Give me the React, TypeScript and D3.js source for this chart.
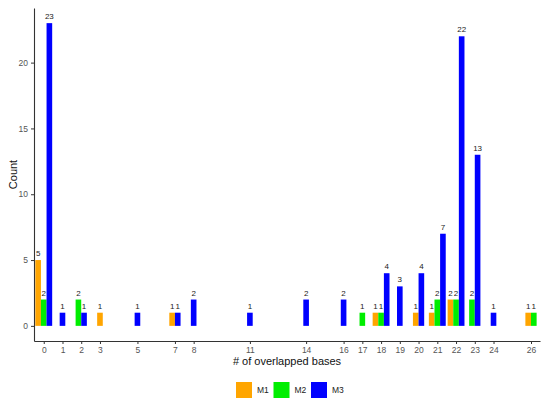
import * as d3 from "d3";
import { useEffect, useRef } from "react";

// counts per number of overlapped bases
const m1 = [
  { x: 0, n: 5 }, { x: 3, n: 1 }, { x: 7, n: 1 }, { x: 18, n: 1 },
  { x: 20, n: 1 }, { x: 21, n: 1 }, { x: 22, n: 2 }, { x: 26, n: 1 },
];
const m2 = [
  { x: 0, n: 2 }, { x: 2, n: 2 }, { x: 17, n: 1 }, { x: 18, n: 1 },
  { x: 21, n: 2 }, { x: 22, n: 2 }, { x: 23, n: 2 }, { x: 26, n: 1 },
];
const m3 = [
  { x: 0, n: 23 }, { x: 1, n: 1 }, { x: 2, n: 1 }, { x: 5, n: 1 },
  { x: 7, n: 1 }, { x: 8, n: 2 }, { x: 11, n: 1 }, { x: 14, n: 2 },
  { x: 16, n: 2 }, { x: 18, n: 4 }, { x: 19, n: 3 }, { x: 20, n: 4 },
  { x: 21, n: 7 }, { x: 22, n: 22 }, { x: 23, n: 13 }, { x: 24, n: 1 },
];
const seriesNames = ["M1", "M2", "M3"];
const seriesColors = ["#FFA500", "#00EE00", "#0000FF"];
const xTicks = [0, 1, 2, 3, 5, 7, 8, 11, 14, 16, 17, 18, 19, 20, 21, 22, 23, 24, 26];
const yTicks = [0, 5, 10, 15, 20];

const FONT = "'Liberation Sans', Arial, sans-serif";

export default function App() {
  const ref = useRef<SVGSVGElement>(null);

  useEffect(() => {
    const svg = d3.select(ref.current);
    svg.selectAll("*").remove();

    const x = d3.scaleLinear().domain([-0.52, 26.48]).range([34, 540]);
    const y = d3.scaleLinear().domain([-1.15, 24.15]).range([341, 8]);

    const all = [m1, m2, m3];
    // dodge bars among the groups present at each x
    const bars: { x: number; n: number; g: number; i: number; k: number }[] = [];
    xTicks.forEach((xv) => {
      const present = all
        .map((s, g) => ({ g, d: s.find((d) => d.x === xv) }))
        .filter((p) => p.d);
      present.forEach((p, i) =>
        bars.push({ x: xv, n: p.d!.n, g: p.g, i, k: present.length })
      );
    });
    const bw = 0.3;
    const left = (d: { x: number; i: number; k: number }) =>
      d.x - (d.k * bw) / 2 + d.i * bw;

    // bars
    svg
      .append("g")
      .selectAll("rect")
      .data(bars)
      .enter()
      .append("rect")
      .attr("x", (d) => x(left(d)))
      .attr("width", (d) => x(left(d) + bw) - x(left(d)))
      .attr("y", (d) => y(d.n))
      .attr("height", (d) => y(0) - y(d.n))
      .attr("fill", (d) => seriesColors[d.g]);

    // value labels
    svg
      .append("g")
      .selectAll("text")
      .data(bars)
      .enter()
      .append("text")
      .attr("x", (d) => x(left(d) + bw / 2))
      .attr("y", (d) => y(d.n) - 4)
      .attr("text-anchor", "middle")
      .attr("font-family", FONT)
      .attr("font-size", "8px")
      .attr("fill", "#222")
      .text((d) => d.n);

    // x axis
    const xAxis = svg
      .append("g")
      .attr("transform", `translate(0,${y.range()[0]})`)
      .call(d3.axisBottom(x).tickValues(xTicks).tickSize(3).tickPadding(3).tickSizeOuter(0));
    xAxis.select(".domain").attr("stroke", "#333").attr("stroke-width", 1.1);
    xAxis.selectAll(".tick line").attr("stroke", "#333");
    xAxis
      .selectAll("text")
      .attr("font-family", FONT)
      .attr("font-size", "8.5px")
      .attr("fill", "#555");

    // y axis
    const yAxis = svg
      .append("g")
      .attr("transform", `translate(${x.range()[0]},0)`)
      .call(d3.axisLeft(y).tickValues(yTicks).tickSize(3).tickPadding(3).tickSizeOuter(0));
    yAxis.select(".domain").attr("stroke", "#333").attr("stroke-width", 1.1);
    yAxis.selectAll(".tick line").attr("stroke", "#333");
    yAxis
      .selectAll("text")
      .attr("font-family", FONT)
      .attr("font-size", "8.5px")
      .attr("fill", "#555");

    // axis titles
    svg
      .append("text")
      .attr("x", (x.range()[0] + x.range()[1]) / 2)
      .attr("y", 365)
      .attr("text-anchor", "middle")
      .attr("font-family", FONT)
      .attr("font-size", "11px")
      .attr("fill", "#111")
      .text("# of overlapped bases");

    svg
      .append("text")
      .attr("transform", `translate(17,${(y.range()[0] + y.range()[1]) / 2}) rotate(-90)`)
      .attr("text-anchor", "middle")
      .attr("font-family", FONT)
      .attr("font-size", "11px")
      .attr("fill", "#111")
      .text("Count");

    // legend
    const legend = svg
      .append("g")
      .selectAll("g")
      .data(seriesNames)
      .enter()
      .append("g")
      .attr("transform", (_, i) => `translate(${236 + i * 37.5},382)`);
    legend
      .append("rect")
      .attr("width", 16)
      .attr("height", 16)
      .attr("fill", (_, i) => seriesColors[i]);
    legend
      .append("text")
      .attr("x", 21)
      .attr("y", 11)
      .attr("font-family", FONT)
      .attr("font-size", "8.5px")
      .attr("fill", "#222")
      .text((d) => d);
  }, []);

  return (
    <svg
      ref={ref}
      width={550}
      height={404}
      style={{ position: "absolute", left: 0, top: 0, background: "#fff" }}
    />
  );
}
